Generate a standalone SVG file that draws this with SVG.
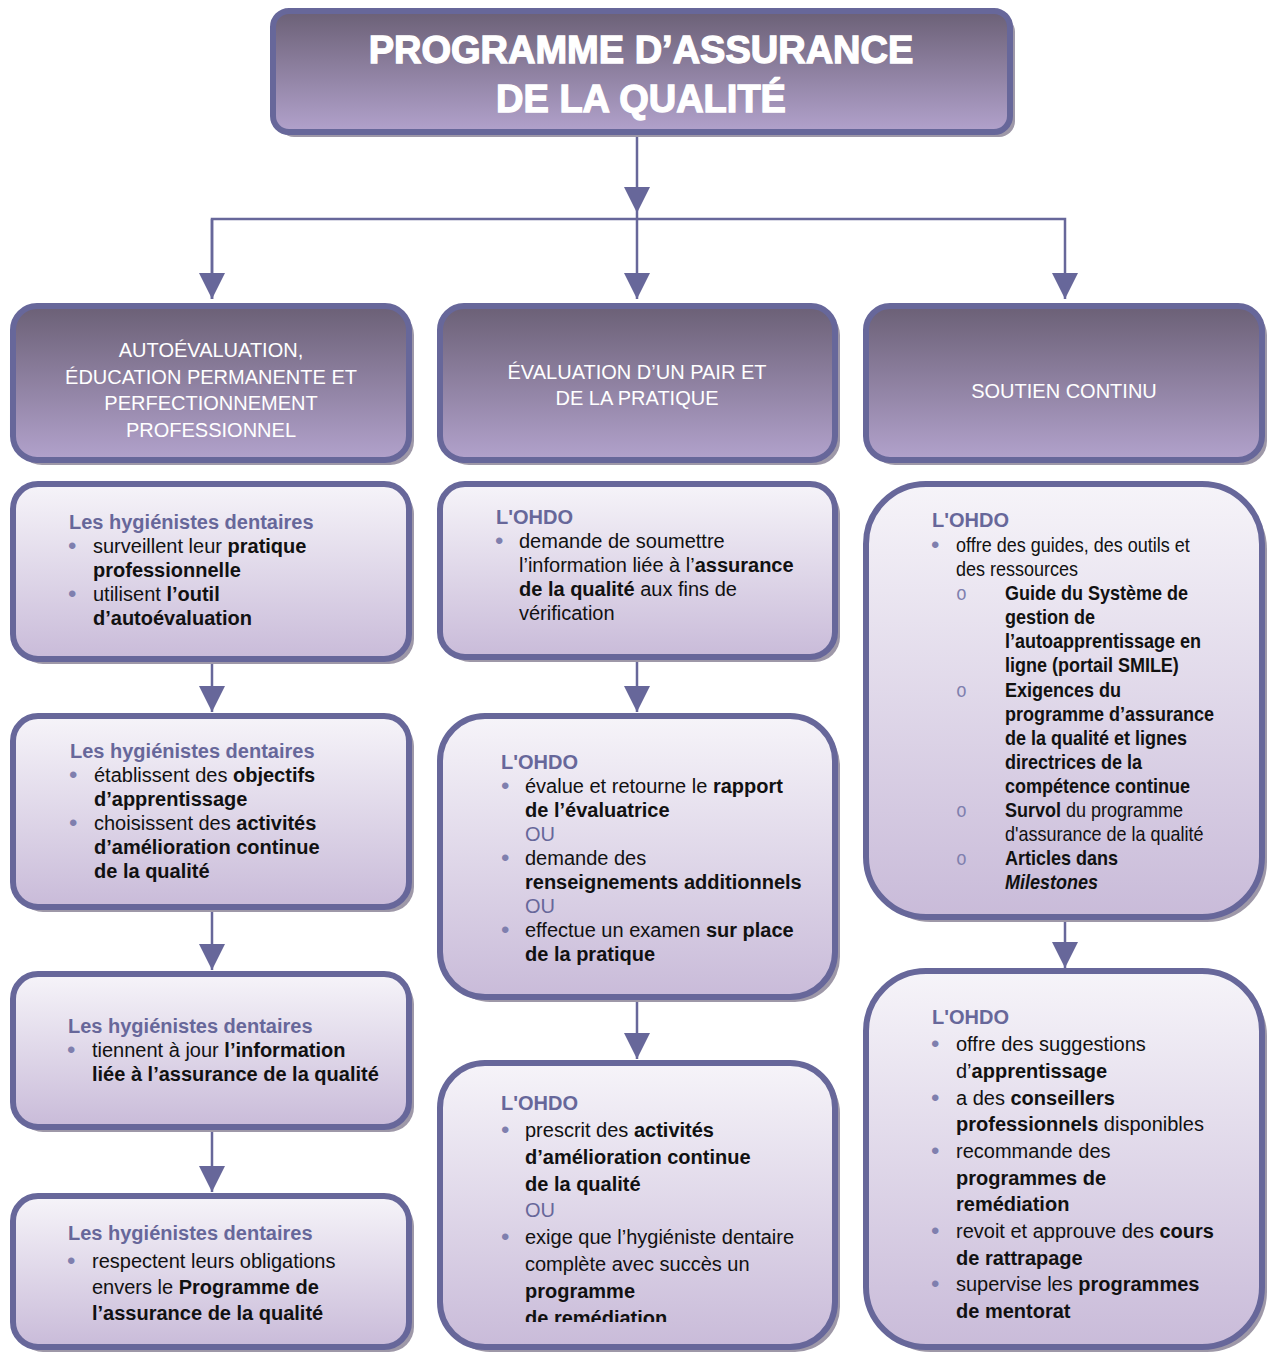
<svg xmlns="http://www.w3.org/2000/svg" width="1268" height="1357" viewBox="0 0 1268 1357">
<defs>
<linearGradient id="gHead" x1="0" y1="0" x2="0" y2="1">
<stop offset="0" stop-color="#6b6076"/>
<stop offset="1" stop-color="#b2a2cc"/>
</linearGradient>
<linearGradient id="gBody" x1="0" y1="0" x2="0" y2="1">
<stop offset="0" stop-color="#f6f4f9"/>
<stop offset="1" stop-color="#c9bbd9"/>
</linearGradient>
<marker id="arr" markerUnits="userSpaceOnUse" markerWidth="26" markerHeight="26" refX="26" refY="13" orient="auto">
<path d="M0,0 L26,13 L0,26 Z" fill="#67679a"/>
</marker>
<clipPath id="clipM3"><rect x="440" y="1063" width="400" height="259"/></clipPath>
<style>
.sh{fill:#9e98a8}
.hd{fill:url(#gHead);stroke:#67679a;stroke-width:6}
.bd{fill:url(#gBody);stroke:#67679a;stroke-width:6}
.ttl{font-family:"Liberation Sans",Arial,sans-serif;font-weight:bold;font-size:38px;fill:#fff;stroke:#fff;stroke-width:1.3;text-anchor:middle}
.ht{font-family:"Liberation Sans",Arial,sans-serif;font-size:20px;fill:#fff;text-anchor:middle}
.t{font-family:"Liberation Sans",Arial,sans-serif;font-size:20px;fill:#111}
.b{font-weight:bold}
.i{font-style:italic}
.h{fill:#67679a}
.hb{fill:#67679a;font-weight:bold}
.dot{font-family:"Liberation Sans",Arial,sans-serif;font-size:24px;fill:#7f7fae}
.o{font-family:"Liberation Mono","Courier New",monospace;font-size:20px;fill:#7f7fae}
.cn{fill:none;stroke:#67679a;stroke-width:2.5}
</style>
</defs>

<g id="connectors">
<line class="cn" x1="637" y1="135" x2="637" y2="213" marker-end="url(#arr)"/>
<polyline class="cn" points="212,299 212,219 1065,219 1065,299" marker-end="url(#arr)"/>
<line class="cn" x1="212" y1="219" x2="212" y2="299" marker-end="url(#arr)"/>
<line class="cn" x1="637" y1="213" x2="637" y2="299" marker-end="url(#arr)"/>
<line class="cn" x1="212" y1="662" x2="212" y2="712" marker-end="url(#arr)"/>
<line class="cn" x1="212" y1="912" x2="212" y2="970" marker-end="url(#arr)"/>
<line class="cn" x1="212" y1="1132" x2="212" y2="1192" marker-end="url(#arr)"/>
<line class="cn" x1="637" y1="662" x2="637" y2="712" marker-end="url(#arr)"/>
<line class="cn" x1="637" y1="1002" x2="637" y2="1059" marker-end="url(#arr)"/>
<line class="cn" x1="1065" y1="922" x2="1065" y2="968" marker-end="url(#arr)"/>
</g>

<g id="title">
<rect class="sh" x="278" y="16" width="737" height="121" rx="16"/>
<rect class="hd" x="273" y="11" width="737" height="121" rx="16"/>
<text class="ttl" x="641" y="63">PROGRAMME D’ASSURANCE</text>
<text class="ttl" x="641" y="112">DE LA QUALITÉ</text>
</g>

<g id="head-left">
<rect class="sh" x="18" y="311" width="396" height="154" rx="24"/>
<rect class="hd" x="13" y="306" width="396" height="154" rx="24"/>
<text class="ht" x="211" y="357">AUTOÉVALUATION,</text>
<text class="ht" x="211" y="384">ÉDUCATION PERMANENTE ET</text>
<text class="ht" x="211" y="410">PERFECTIONNEMENT</text>
<text class="ht" x="211" y="437">PROFESSIONNEL</text>
</g>

<g id="head-mid">
<rect class="sh" x="445" y="311" width="395" height="154" rx="24"/>
<rect class="hd" x="440" y="306" width="395" height="154" rx="24"/>
<text class="ht" x="637" y="379">ÉVALUATION D’UN PAIR ET</text>
<text class="ht" x="637" y="405">DE LA PRATIQUE</text>
</g>

<g id="head-right">
<rect class="sh" x="871" y="311" width="396" height="154" rx="24"/>
<rect class="hd" x="866" y="306" width="396" height="154" rx="24"/>
<text class="ht" x="1064" y="398">SOUTIEN CONTINU</text>
</g>

<g id="left-1">
<rect class="sh" x="18" y="489" width="396" height="175" rx="25"/>
<rect class="bd" x="13" y="484" width="396" height="175" rx="25"/>
<text class="t hb" x="69" y="529">Les hygiénistes dentaires</text>
<text class="dot" x="68" y="554">•</text>
<text class="t" x="93" y="553">surveillent leur <tspan class="b">pratique</tspan></text>
<text class="t b" x="93" y="577">professionnelle</text>
<text class="dot" x="68" y="602">•</text>
<text class="t" x="93" y="601">utilisent <tspan class="b">l’outil</tspan></text>
<text class="t b" x="93" y="625">d’autoévaluation</text>
</g>

<g id="left-2">
<rect class="sh" x="18" y="721" width="396" height="191" rx="25"/>
<rect class="bd" x="13" y="716" width="396" height="191" rx="25"/>
<text class="t hb" x="70" y="758">Les hygiénistes dentaires</text>
<text class="dot" x="69" y="783">•</text>
<text class="t" x="94" y="782">établissent des <tspan class="b">objectifs</tspan></text>
<text class="t b" x="94" y="806">d’apprentissage</text>
<text class="dot" x="69" y="831">•</text>
<text class="t" x="94" y="830">choisissent des <tspan class="b">activités</tspan></text>
<text class="t b" x="94" y="854">d’amélioration continue</text>
<text class="t b" x="94" y="878">de la qualité</text>
</g>

<g id="left-3">
<rect class="sh" x="18" y="979" width="396" height="153" rx="25"/>
<rect class="bd" x="13" y="974" width="396" height="153" rx="25"/>
<text class="t hb" x="68" y="1033">Les hygiénistes dentaires</text>
<text class="dot" x="67" y="1058">•</text>
<text class="t" x="92" y="1057">tiennent à jour <tspan class="b">l’information</tspan></text>
<text class="t b" x="92" y="1081">liée à l’assurance de la qualité</text>
</g>

<g id="left-4">
<rect class="sh" x="18" y="1201" width="396" height="151" rx="25"/>
<rect class="bd" x="13" y="1196" width="396" height="151" rx="25"/>
<text class="t hb" x="68" y="1240">Les hygiénistes dentaires</text>
<text class="dot" x="67" y="1269">•</text>
<text class="t" x="92" y="1268">respectent leurs obligations</text>
<text class="t" x="92" y="1294">envers le <tspan class="b">Programme de</tspan></text>
<text class="t b" x="92" y="1320">l’assurance de la qualité</text>
</g>

<g id="mid-1">
<rect class="sh" x="445" y="489" width="395" height="173" rx="25"/>
<rect class="bd" x="440" y="484" width="395" height="173" rx="25"/>
<text class="t hb" x="496" y="524">L'OHDO</text>
<text class="dot" x="495" y="549">•</text>
<text class="t" x="519" y="548">demande de soumettre</text>
<text class="t" x="519" y="572">l’information liée à l’<tspan class="b">assurance</tspan></text>
<text class="t" x="519" y="596"><tspan class="b">de la qualité</tspan> aux fins de</text>
<text class="t" x="519" y="620">vérification</text>
</g>

<g id="mid-2">
<rect class="sh" x="445" y="721" width="395" height="281" rx="45"/>
<rect class="bd" x="440" y="716" width="395" height="281" rx="45"/>
<text class="t hb" x="501" y="769">L'OHDO</text>
<text class="dot" x="501" y="794">•</text>
<text class="t" x="525" y="793">évalue et retourne le <tspan class="b">rapport</tspan></text>
<text class="t b" x="525" y="817">de l’évaluatrice</text>
<text class="t h" x="525" y="841">OU</text>
<text class="dot" x="501" y="866">•</text>
<text class="t" x="525" y="865">demande des</text>
<text class="t b" x="525" y="889">renseignements additionnels</text>
<text class="t h" x="525" y="913">OU</text>
<text class="dot" x="501" y="938">•</text>
<text class="t" x="525" y="937">effectue un examen <tspan class="b">sur place</tspan></text>
<text class="t b" x="525" y="961">de la pratique</text>
</g>

<g id="mid-3">
<rect class="sh" x="445" y="1068" width="395" height="284" rx="45"/>
<rect class="bd" x="440" y="1063" width="395" height="284" rx="45"/>
<text class="t hb" x="501" y="1110">L'OHDO</text>
<text class="dot" x="501" y="1138">•</text>
<text class="t" x="525" y="1137">prescrit des <tspan class="b">activités</tspan></text>
<text class="t b" x="525" y="1164">d’amélioration continue</text>
<text class="t b" x="525" y="1191">de la qualité</text>
<text class="t h" x="525" y="1217">OU</text>
<text class="dot" x="501" y="1245">•</text>
<text class="t" x="525" y="1244">exige que l’hygiéniste dentaire</text>
<text class="t" x="525" y="1271">complète avec succès un</text>
<text class="t b" x="525" y="1298">programme</text>
<text class="t b" x="525" y="1325" clip-path="url(#clipM3)">de remédiation</text>
</g>

<g id="right-1">
<rect class="sh" x="871" y="489" width="396" height="433" rx="60"/>
<rect class="bd" x="866" y="484" width="396" height="433" rx="60"/>
<text class="t hb" x="932" y="527">L'OHDO</text>
<text class="dot" x="931" y="553">•</text>
<g transform="matrix(0.9,0,0,1,95.6,0)">
<text class="t" x="956" y="552">offre des guides, des outils et</text>
<text class="t" x="956" y="576">des ressources</text>
<text class="o" x="956" y="600">o</text>
<text class="t b" x="1010.4" y="600">Guide du Système de</text>
<text class="t b" x="1010.4" y="624">gestion de</text>
<text class="t b" x="1010.4" y="648">l’autoapprentissage en</text>
<text class="t b" x="1010.4" y="672">ligne (portail SMILE)</text>
<text class="o" x="956" y="697">o</text>
<text class="t b" x="1010.4" y="697">Exigences du</text>
<text class="t b" x="1010.4" y="721">programme d’assurance</text>
<text class="t b" x="1010.4" y="745">de la qualité et lignes</text>
<text class="t b" x="1010.4" y="769">directrices de la</text>
<text class="t b" x="1010.4" y="793">compétence continue</text>
<text class="o" x="956" y="817">o</text>
<text class="t" x="1010.4" y="817"><tspan class="b">Survol</tspan> du programme</text>
<text class="t" x="1010.4" y="841">d'assurance de la qualité</text>
<text class="o" x="956" y="865">o</text>
<text class="t b" x="1010.4" y="865">Articles dans</text>
<text class="t b i" x="1010.4" y="889">Milestones</text>
</g>
</g>

<g id="right-2">
<rect class="sh" x="871" y="976" width="396" height="376" rx="60"/>
<rect class="bd" x="866" y="971" width="396" height="376" rx="60"/>
<text class="t hb" x="932" y="1024">L'OHDO</text>
<text class="dot" x="931" y="1052">•</text>
<text class="t" x="956" y="1051">offre des suggestions</text>
<text class="t" x="956" y="1078">d’<tspan class="b">apprentissage</tspan></text>
<text class="dot" x="931" y="1106">•</text>
<text class="t" x="956" y="1105">a des <tspan class="b">conseillers</tspan></text>
<text class="t" x="956" y="1131"><tspan class="b">professionnels</tspan> disponibles</text>
<text class="dot" x="931" y="1159">•</text>
<text class="t" x="956" y="1158">recommande des</text>
<text class="t b" x="956" y="1185">programmes de</text>
<text class="t b" x="956" y="1211">remédiation</text>
<text class="dot" x="931" y="1239">•</text>
<text class="t" x="956" y="1238">revoit et approuve des <tspan class="b">cours</tspan></text>
<text class="t b" x="956" y="1265">de rattrapage</text>
<text class="dot" x="931" y="1292">•</text>
<text class="t" x="956" y="1291">supervise les <tspan class="b">programmes</tspan></text>
<text class="t b" x="956" y="1318">de mentorat</text>
</g>
</svg>
